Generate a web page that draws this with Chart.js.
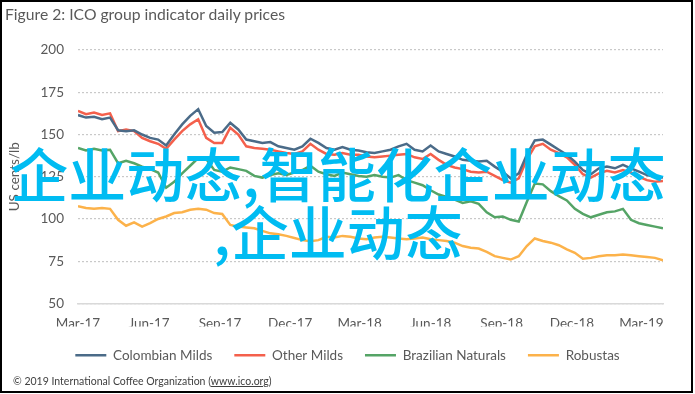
<!DOCTYPE html>
<html>
<head>
<meta charset="utf-8">
<script src="https://cdn.jsdelivr.net/npm/chart.js@4.4.1/dist/chart.umd.min.js"></script>
<style>
  html, body { margin: 0; padding: 0; background: #fff; }
  #frame { position: relative; width: 695px; height: 394px; overflow: hidden; background: #fff; }
  #chart { position: absolute; left: 0; top: 0; }
  #border { position: absolute; left: 0; top: 0; width: 693px; height: 393px; box-sizing: border-box; border: 2px solid #000; pointer-events: none; }
  #title { position: absolute; left: 5px; top: 5px; font: 15.7px Lato, sans-serif; color: #595959; white-space: nowrap; }
  #foot { position: absolute; left: 13px; top: 375px; font: 10.5px Lato, sans-serif; color: #404040; white-space: nowrap; }
  #wm { position: absolute; left: 0; top: 143px; width: 676px; text-align: center; font: 500 58px/58px "Noto Sans CJK SC", sans-serif; color: #00bcf2; white-space: nowrap; pointer-events: none; }
</style>
</head>
<body>
<div id="frame">
  <canvas id="chart" width="695" height="394"></canvas>
  <div id="title">Figure 2: ICO group indicator daily prices</div>
  <div id="foot">© 2019 International Coffee Organization (<u>www.ico.org</u>)</div>
  <div id="wm">企业动态,智能化企业动态<br>,企业动态</div>
  <div id="border"></div>
</div>
<script>
// x is days since 1 Mar 2017; samples are spread evenly over the plotted span
const xMaxDay = 758;
const xTickDays = [0, 92, 184, 275, 365, 457, 549, 640, 730];
const xTickLabels = ['Mar-17', 'Jun-17', 'Sep-17', 'Dec-17', 'Mar-18', 'Jun-18', 'Sep-18', 'Dec-18', 'Mar-19'];

const colombianMilds = [
  161.5, 160, 160.5, 159, 160, 152.5, 152, 152.5, 150, 148, 147, 143.5, 150, 156, 161, 165,
  155, 151, 151.5, 157, 153, 147, 146, 145, 145.5, 143, 142, 141, 143, 147.5, 145, 142,
  141, 142.5, 141, 140.5, 139.5, 139, 140, 141, 143, 144.5, 141, 140, 143.5, 140, 138.5, 137,
  135, 134.5, 134, 134.5, 131, 128, 124, 127, 138, 146.5, 147, 144, 141, 138, 134, 129,
  126.5, 130, 131, 130, 132, 130, 128, 126, 125, 124.5
];
const otherMilds = [
  164, 162, 163, 161.5, 162.5, 152, 153, 152, 148, 146, 144.5, 141.5, 147, 152, 156, 159,
  148, 145, 145, 154, 150, 143, 142, 141.5, 141, 140, 139, 138.5, 140, 144.5, 141, 138.5,
  138, 139, 138, 138, 137, 136.5, 137, 137.5, 138, 138.5, 136.5, 135.5, 138.5, 135, 132, 130.5,
  129.5, 128, 127.5, 128, 125.5, 123, 121.5, 124, 135, 143, 144.5, 141, 139, 136.5, 132, 126.5,
  124.5, 127, 128.5, 127.5, 129, 127.5, 125, 123, 122, 122.5
];
const brazilianNaturals = [
  142, 140.5, 141.5, 140.5, 141, 133, 134.5, 133, 131, 129.5, 127.5, 118.5, 122, 127, 131.5, 136,
  135.5, 129, 128, 130.5, 129.5, 128.5, 125.5, 124.5, 126, 127, 126, 127.5, 129, 131.5, 128, 126.5,
  125.5, 127.5, 126.5, 125.5, 125, 126, 125, 124.5, 126, 123, 121.5, 120, 117, 114.5, 113, 111.5,
  109.5, 110.5, 109, 104, 101, 101.5, 99.5, 98.5, 110, 121, 120.5, 116.5, 113.5, 111, 106, 103,
  101, 102.5, 104, 104.5, 106, 99.5, 97.5, 96.5, 95.5, 94.5
];
const robustas = [
  107.5, 106.5, 106, 106.5, 106, 99.5, 96, 98, 95.5, 97.5, 100, 101.5, 103.5, 104, 105.5, 106,
  105.5, 103.5, 103, 96.5, 95.5, 95, 94.5, 93, 91.5, 91, 90, 88.8, 87.5, 86.9, 87.5, 89.5,
  89, 90, 89.5, 88.5, 88, 89, 89.5, 89, 88.5, 88, 88.5, 89, 88, 87.5, 87, 86,
  84, 83, 82.5, 80.5, 78, 77, 76, 78, 84, 88.5, 87, 86, 84.5, 82, 80, 76.5,
  77, 78, 78.5, 78.5, 79, 78.5, 78, 77.5, 77, 75.5
];

const seriesNames = ['Colombian Milds', 'Other Milds', 'Brazilian Naturals', 'Robustas'];
const seriesValues = [colombianMilds, otherMilds, brazilianNaturals, robustas];
const seriesColors = ['#4b6b88', '#f4604c', '#55a466', '#fcb24a'];

(function () {
  const textColor = '#595959';
  const font = { family: 'Lato, sans-serif', size: 13.5 };

  function toPoints(values) {
    const step = xMaxDay / (values.length - 1);
    return values.map((y, i) => ({ x: i * step, y }));
  }

  const datasets = seriesNames.map((name, i) => ({
    label: name,
    data: toPoints(seriesValues[i]),
    borderColor: seriesColors[i],
    backgroundColor: seriesColors[i],
    borderWidth: 2.5,
    pointRadius: 0,
    tension: 0,
  }));

  new Chart(document.getElementById('chart'), {
    type: 'line',
    data: { datasets },
    options: {
      responsive: false,
      animation: false,
      layout: { padding: { top: 50, left: 0, right: 0, bottom: 22 } },
      scales: {
        x: {
          type: 'linear',
          min: 0,
          max: xMaxDay,
          afterBuildTicks: (axis) => { axis.ticks = xTickDays.map((v) => ({ value: v })); },
          afterFit: (axis) => { axis.height = 23; },
          grid: { display: false, drawTicks: false },
          border: { display: true, color: '#d9d9d9', width: 1.5 },
          ticks: {
            autoSkip: false,
            maxRotation: 0,
            padding: 12,
            color: textColor,
            font,
            callback: (v) => xTickLabels[xTickDays.indexOf(v)],
          },
        },
        y: {
          min: 50,
          max: 200,
          afterFit: (axis) => { axis.width = 78; },
          grid: { color: '#c9c9c9', lineWidth: 1.2, drawTicks: false },
          border: { display: false, dash: [2, 2] },
          ticks: { stepSize: 25, padding: 14, color: textColor, font },
          title: {
            display: true,
            text: 'US cents/lb',
            color: textColor,
            font: { family: 'Lato, sans-serif', size: 13.5 },
            padding: { top: 7, bottom: 0 },
          },
        },
        y2: {
          position: 'right',
          display: true,
          afterFit: (axis) => { axis.width = 32; },
          grid: { display: false, drawTicks: false },
          border: { display: false },
          ticks: { display: false },
        },
      },
      plugins: {
        tooltip: { enabled: false },
        legend: {
          position: 'bottom',
          labels: {
            color: textColor,
            font: { family: 'Lato, sans-serif', size: 13.5 },
            usePointStyle: true,
            pointStyle: 'line',
            pointStyleWidth: 31,
            padding: 22,
          },
        },
      },
    },
  });
})();
</script>
</body>
</html>
